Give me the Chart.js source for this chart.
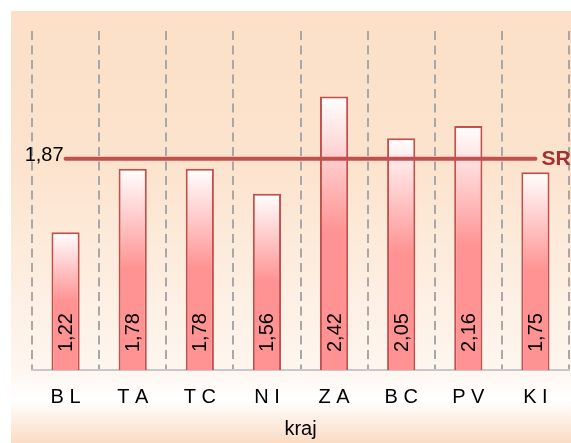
<!DOCTYPE html>
<html>
<head>
<meta charset="utf-8">
<script src="https://cdn.jsdelivr.net/npm/chart.js@4/dist/chart.umd.min.js"></script>
<style>
  html, body { margin: 0; padding: 0; background: #fff; }
  canvas { display: block; }
</style>
</head>
<body>
<canvas id="chart" width="571" height="443"></canvas>
<script>
// data
const regions = ['BL', 'TA', 'TC', 'NI', 'ZA', 'BC', 'PV', 'KI'];
const values = [1.22, 1.78, 1.78, 1.56, 2.42, 2.05, 2.16, 1.75];
const average = 1.87;
const averageLabel = 'SR';
const axisTitle = 'kraj';

const FONT = "'Liberation Sans', Arial, sans-serif";
const PINK = 'rgb(255,146,146)';
const RED = 'rgb(194,80,78)';

const fmt = v => v.toFixed(2).replace('.', ',');

// peach panel behind the chart
const panelBg = {
  id: 'panelBg',
  beforeDraw(chart) {
    const ctx = chart.ctx;
    ctx.save();
    ctx.fillStyle = '#ffffff';
    ctx.fillRect(0, 0, chart.width, chart.height);
    const g = ctx.createLinearGradient(0, 11, 0, chart.height);
    g.addColorStop(0, '#fce0c8');
    g.addColorStop(0.35, '#fce3cd');
    g.addColorStop(0.83, '#fef6ef');
    g.addColorStop(0.9, '#ffffff');
    g.addColorStop(1, '#fbdcc4');
    ctx.fillStyle = g;
    ctx.fillRect(11, 11, chart.width - 11, chart.height - 11);
    ctx.restore();
  }
};

// value labels in bars + average labels
const labelsPlugin = {
  id: 'labelsPlugin',
  afterDatasetsDraw(chart) {
    const ctx = chart.ctx;
    const y = chart.scales.y;
    const bars = chart.getDatasetMeta(1).data;
    ctx.save();
    ctx.fillStyle = '#000';
    ctx.font = '20px ' + FONT;
    ctx.textAlign = 'left';
    ctx.textBaseline = 'middle';
    bars.forEach((bar, i) => {
      ctx.save();
      ctx.translate(bar.x + 1, bar.base - 18);
      ctx.rotate(-Math.PI / 2);
      ctx.fillText(fmt(values[i]), 0, 0);
      ctx.restore();
    });

    const line = chart.getDatasetMeta(0).data;
    const ly = y.getPixelForValue(average);
    ctx.textBaseline = 'alphabetic';
    ctx.textAlign = 'right';
    ctx.fillText(fmt(average), line[0].x - 2, ly + 2);
    ctx.textAlign = 'left';
    ctx.fillStyle = 'rgb(160,50,50)';
    ctx.font = 'bold 21px ' + FONT;
    ctx.fillText(averageLabel, line[line.length - 1].x + 6, ly + 6);
    ctx.restore();
  }
};

new Chart(document.getElementById('chart'), {
  data: {
    labels: regions,
    datasets: [{
      type: 'line',
      data: regions.map(() => average),
      borderColor: RED,
      borderWidth: 4,
      borderCapStyle: 'round',
      pointRadius: 0,
      order: 0
    }, {
      type: 'bar',
      data: values,
      order: 1,
      borderColor: RED,
      borderWidth: 2,
      barPercentage: 0.42,
      categoryPercentage: 1,
      backgroundColor: c => {
        const chart = c.chart;
        const ys = chart.scales.y;
        if (!chart.chartArea || !ys || c.dataIndex === undefined) return PINK;
        const top = ys.getPixelForValue(values[c.dataIndex]);
        const base = ys.getPixelForValue(0);
        const g = chart.ctx.createLinearGradient(0, top, 0, base);
        g.addColorStop(0, '#ffffff');
        g.addColorStop(0.5, PINK);
        g.addColorStop(1, PINK);
        return g;
      }
    }]
  },
  options: {
    responsive: false,
    animation: false,
    layout: { padding: { left: 32, right: 2, top: 31, bottom: 0 } },
    plugins: { legend: { display: false }, tooltip: { enabled: false } },
    scales: {
      x: {
        offset: true,
        afterFit: s => { s.height = 73; },
        grid: { offset: true, color: '#a8a8a8', lineWidth: 2, drawTicks: false },
        border: { color: '#c8c8c8', width: 2, dash: [9, 5.5] },
        ticks: {
          color: '#000',
          font: { family: FONT, size: 20 },
          padding: 15,
          maxRotation: 0,
          callback: (v, i) => regions[i].split('').join(' ')
        },
        title: {
          display: true,
          text: axisTitle,
          color: '#000',
          font: { family: FONT, size: 20 },
          padding: { top: 0, bottom: 2 }
        }
      },
      y: { display: false, min: 0, max: 3 }
    }
  },
  plugins: [panelBg, labelsPlugin]
});
</script>
</body>
</html>
